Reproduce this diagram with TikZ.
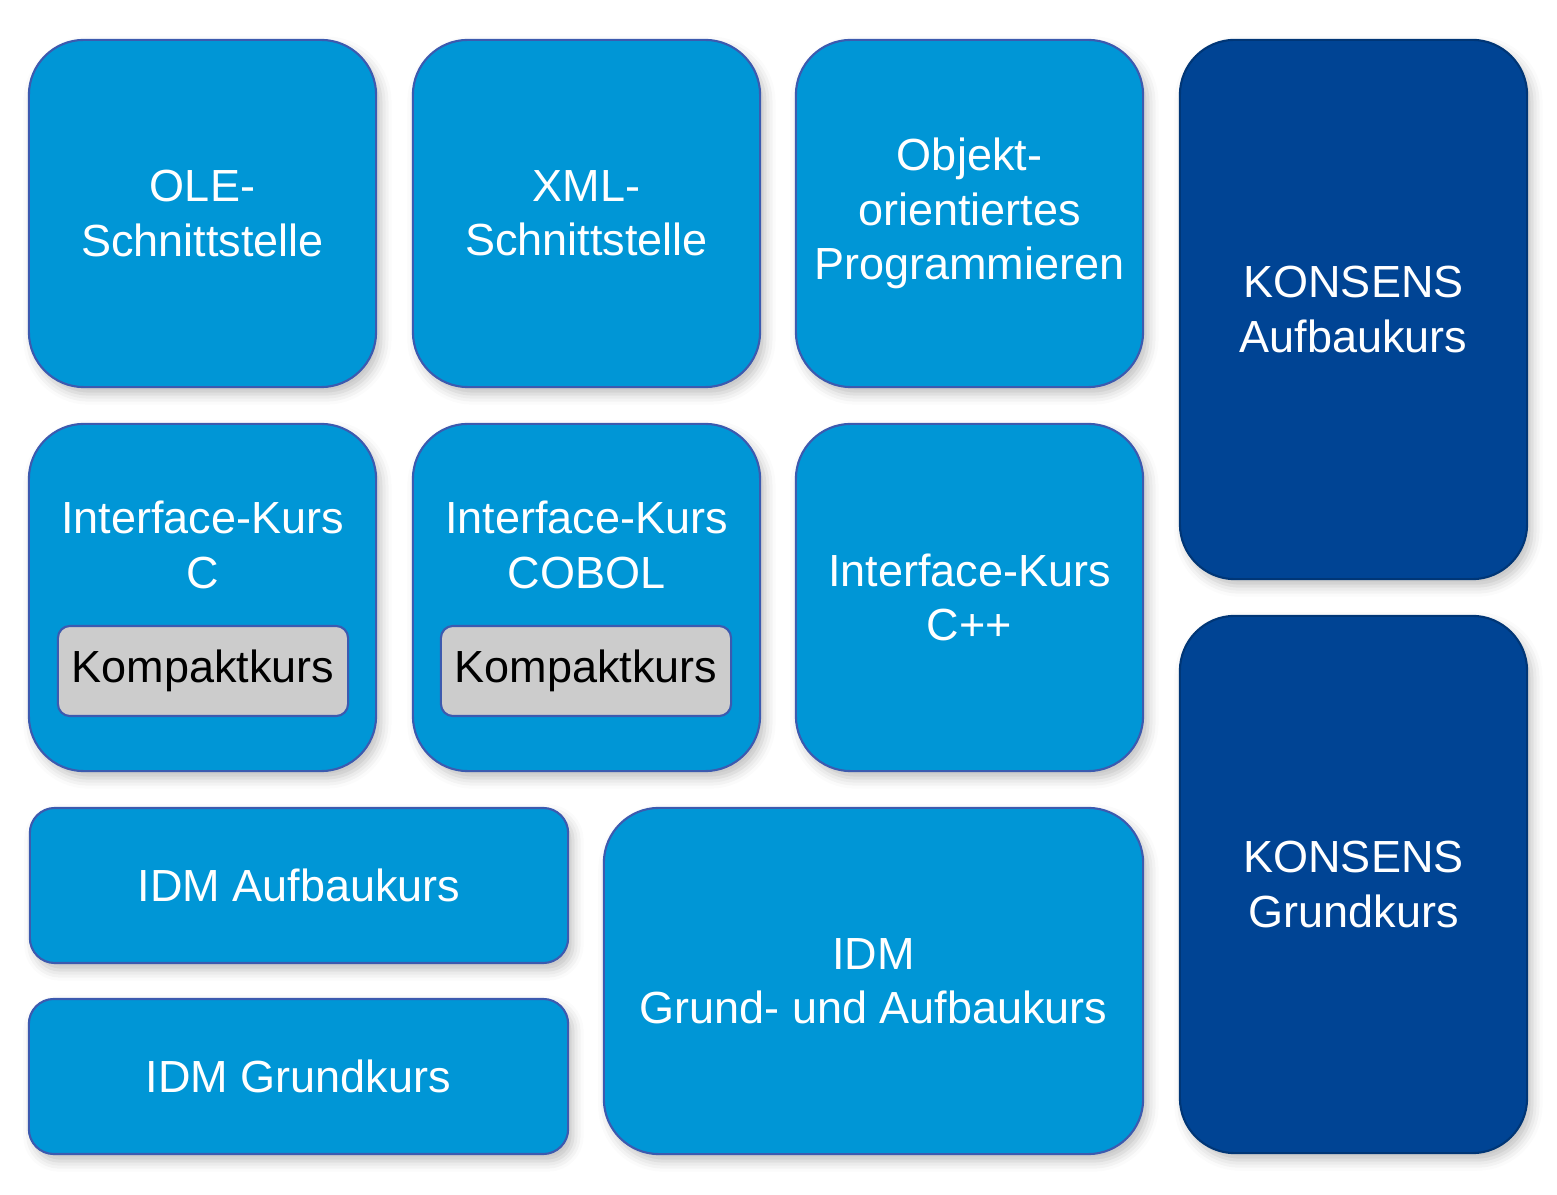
\documentclass[tikz,border=0pt]{standalone}
\usepackage{fontspec}
\setmainfont{Liberation Sans}
\usetikzlibrary{shadows.blur}

\definecolor{kursblau}{RGB}{0,150,214}
\definecolor{konsblau}{RGB}{0,68,148}
\definecolor{randblau}{RGB}{60,90,175}
\definecolor{kompaktgrau}{RGB}{204,204,204}

\begin{document}
\begin{tikzpicture}[x=0.01cm, y=-0.01cm,
    kurs/.style={draw=randblau, fill=kursblau, line width=0.6pt, rounded corners=0.55cm,
        inner sep=0pt, align=center, text=white,
        font=\fontsize{12.8}{15.4}\selectfont,
        blur shadow={shadow xshift=1.4pt, shadow yshift=-2pt, shadow blur radius=3pt, shadow opacity=25}},
    kons/.style={kurs, fill=konsblau, draw=konsblau!80!black},
    flach/.style={kurs, rounded corners=0.25cm},
    kompakt/.style={draw=randblau, fill=kompaktgrau, line width=0.6pt, rounded corners=0.12cm,
        inner sep=0pt, minimum width=2.9cm, minimum height=0.9cm,
        font=\fontsize{12.8}{15.4}\selectfont},
    lbl/.style={align=center, text=white, font=\fontsize{12.8}{15.4}\selectfont}]

\useasboundingbox (0,0) rectangle (1557,1195);

% obere Reihe
\node[kurs, minimum width=3.47cm, minimum height=3.47cm] (ole) at (202.5,213.5) {OLE-\\Schnittstelle};
\node[kurs, minimum width=3.47cm, minimum height=3.47cm] (xml) at (586.5,213.5) {XML-\\Schnittstelle};
\node[kurs, minimum width=3.47cm, minimum height=3.47cm] (oop) at (969.5,213.5) {Objekt-\\orientiertes\\Programmieren};

% mittlere Reihe
\node[kurs, minimum width=3.47cm, minimum height=3.47cm] (ic) at (202.5,597.5) {};
\node[lbl] (ictext) at (202.5,545) {Interface-Kurs\\C};
\node[kompakt] (kc) at (203,671) {\raisebox{-2pt}{Kompaktkurs}};

\node[kurs, minimum width=3.47cm, minimum height=3.47cm] (icob) at (586.5,597.5) {};
\node[lbl] (icobtext) at (586.5,545) {Interface-Kurs\\COBOL};
\node[kompakt] (kcob) at (586,671) {\raisebox{-2pt}{Kompaktkurs}};

\node[kurs, minimum width=3.47cm, minimum height=3.47cm] (icpp) at (969.5,597.5) {Interface-Kurs\\C++};

% KONSENS
\node[kons, minimum width=3.47cm, minimum height=5.39cm] (ka) at (1353.5,309.5) {KONSENS\\Aufbaukurs};
\node[kons, minimum width=3.47cm, minimum height=5.37cm] (kg) at (1353.5,884.5) {KONSENS\\Grundkurs};

% IDM
\node[flach, minimum width=5.38cm, minimum height=1.55cm] (idma) at (299,885.5) {IDM Aufbaukurs};
\node[flach, minimum width=5.39cm, minimum height=1.55cm] (idmg) at (298.5,1076.5) {IDM Grundkurs};
\node[kurs, minimum width=5.39cm, minimum height=3.46cm] (idmga) at (873.5,981) {IDM\\Grund- und Aufbaukurs};

\end{tikzpicture}
\end{document}
